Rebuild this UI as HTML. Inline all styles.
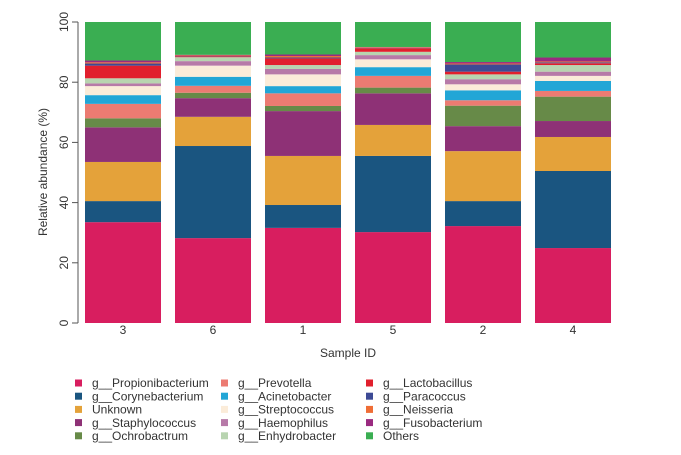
<!DOCTYPE html>
<html><head><meta charset="utf-8"><style>
body{margin:0;background:#fff;width:681px;height:450px;overflow:hidden;font-family:"Liberation Sans",Arial,sans-serif;}
svg text{fill:#333;}
</style></head><body>
<svg id="chart" width="681" height="450" xmlns="http://www.w3.org/2000/svg"></svg>
<script>
const samples=["3","6","1","5","2","4"];
const seriesNames=["g__Propionibacterium","g__Corynebacterium","Unknown","g__Staphylococcus","g__Ochrobactrum","g__Prevotella","g__Acinetobacter","g__Streptococcus","g__Haemophilus","g__Enhydrobacter","g__Lactobacillus","g__Paracoccus","g__Neisseria","g__Fusobacterium","Others"];
const propionibacterium=[33.5,28.2,31.6,30.2,32.2,24.9];
const corynebacterium=[7,30.6,7.6,25.3,8.3,25.6];
const unknown=[13,9.7,16.3,10.3,16.6,11.3];
const staphylococcus=[11.5,6.2,14.9,10.5,8.3,5.3];
const ochrobactrum=[3,1.8,1.7,1.9,6.8,8.1];
const prevotella=[4.8,2.3,4.2,3.9,1.8,1.9];
const acinetobacter=[2.9,3,2.4,2.9,3.3,3.3];
const streptococcus=[3,3.7,3.9,2.6,2,1.7];
const haemophilus=[0.9,1.5,1.8,1.4,1.7,1.4];
const enhydrobacter=[1.7,1.3,1.3,1.1,1.6,2.2];
const lactobacillus=[4.2,0.3,2.2,1.2,0.9,0.6];
const paracoccus=[0.7,0.1,0.3,0.1,2.4,0.3];
const neisseria=[0.4,0.2,0.5,0.2,0.3,0.3];
const fusobacterium=[0.6,0.2,0.5,0.1,0.5,1.3];
const others=[12.8,10.9,10.8,8.3,13.3,11.8];
const yTicks=[0,20,40,60,80,100];

const seriesValues=[propionibacterium,corynebacterium,unknown,staphylococcus,ochrobactrum,prevotella,acinetobacter,streptococcus,haemophilus,enhydrobacter,lactobacillus,paracoccus,neisseria,fusobacterium,others];
const colors=["#d81e5f","#1a5580","#e4a23a","#8e3176","#678a48","#ec7b72","#22a6d6","#fbecd9","#b77aa8","#b8d4b0","#e11f2d","#3d4a95","#ef6d35","#9a2a80","#3aae52"];
const NS="http://www.w3.org/2000/svg";
const svg=document.getElementById('chart');
const y0=323,y1=22;
function yScale(v){return y0-(v/100)*(y0-y1);}
function xScale(i){return 85+i*90;}
const barW=76;
function mk(tag,attrs,parent){const e=document.createElementNS(NS,tag);for(const k in attrs)e.setAttribute(k,attrs[k]);(parent||svg).appendChild(e);return e;}

const bars=mk('g',{});


samples.forEach((s,i)=>{
  let cum=0;
  seriesValues.forEach((arr,k)=>{
    const v=arr[i];
    const r=mk('rect',{x:xScale(i),y:yScale(cum+v),width:barW,height:yScale(cum)-yScale(cum+v),fill:colors[k]},bars);
    
    
    cum+=v;
  });
  const t=mk('text',{x:xScale(i)+barW/2,y:334,'font-size':12,'text-anchor':'middle'});
  t.textContent=s;
  
  
});

const ax=mk('g',{});


mk('line',{x1:78,x2:78,y1:yScale(0),y2:yScale(100),stroke:'#555','stroke-width':1},ax);
yTicks.forEach(v=>{
  const y=yScale(v);
  mk('line',{x1:72,x2:78,y1:y,y2:y,stroke:'#555','stroke-width':1},ax);
  const t=mk('text',{x:0,y:0,'font-size':12,'text-anchor':'middle',transform:`translate(68,${y}) rotate(-90)`},ax);
  t.textContent=v;
  
  
});
const yt=mk('text',{x:0,y:0,'font-size':12,'text-anchor':'middle',transform:'translate(47,172) rotate(-90)'});
yt.textContent='Relative abundance (%)';


const xt=mk('text',{x:348,y:357,'font-size':12,'text-anchor':'middle'});
xt.textContent='Sample ID';



const lg=mk('g',{});


const colX=[75,221,366];
seriesNames.forEach((n,k)=>{
  const c=Math.floor(k/5),r=k%5;
  const cy=383+r*13.2;
  const sq=mk('rect',{x:colX[c],y:cy-3.5,width:7,height:7,fill:colors[k]},lg);
  
  
  const t=mk('text',{x:colX[c]+17,y:cy+4.2,'font-size':12},lg);
  t.textContent=n;
  
  
});
</script>
</body></html>
